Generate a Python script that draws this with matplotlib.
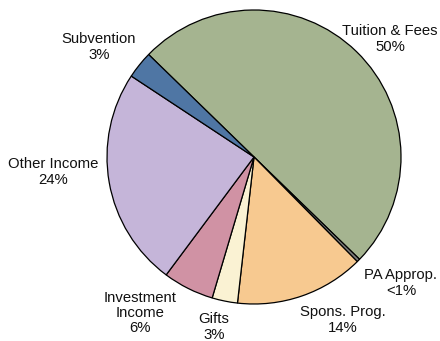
import matplotlib
matplotlib.use("Agg")
import matplotlib.pyplot as plt

# Revenue shares by source (percent)
sources = ["Tuition & Fees", "PA Approp.", "Spons. Prog.", "Gifts",
           "Investment\nIncome", "Other Income", "Subvention"]
shares = [50.0, 0.35, 14.2, 2.8, 5.6, 24.1, 3.0]
share_labels = ["50%", "<1%", "14%", "3%", "6%", "24%", "3%"]
colors = ["#A5B490", "#7F7F7F", "#F7C990", "#FAF2D3", "#D092A4",
          "#C5B5D9", "#4F76A4"]

# label anchor positions in pixel coordinates (x, y from top)
label_pos = [(390, 39), (401, 283), (343, 320), (214, 327),
             (140, 313), (53, 172), (99, 47)]

W, H = 440, 341
fig = plt.figure(figsize=(W / 100, H / 100), dpi=100)
ax = fig.add_axes([0, 0, 1, 1])

cx, cy, r = 254, H - 157, 147
ax.pie(shares, colors=colors, startangle=135.8, counterclock=False,
       center=(cx, cy), radius=r, frame=True,
       wedgeprops=dict(edgecolor="black", linewidth=0.9))
ax.set_xlim(0, W)
ax.set_ylim(0, H)
ax.set_aspect("equal")
ax.axis("off")

for name, pct, (x, y) in zip(sources, share_labels, label_pos):
    ax.text(x, H - y, f"{name}\n{pct}", ha="center", va="center",
            fontsize=10.7, family="Liberation Sans", color="#111111",
            linespacing=1.12)

fig.savefig("out.png", dpi=100)
